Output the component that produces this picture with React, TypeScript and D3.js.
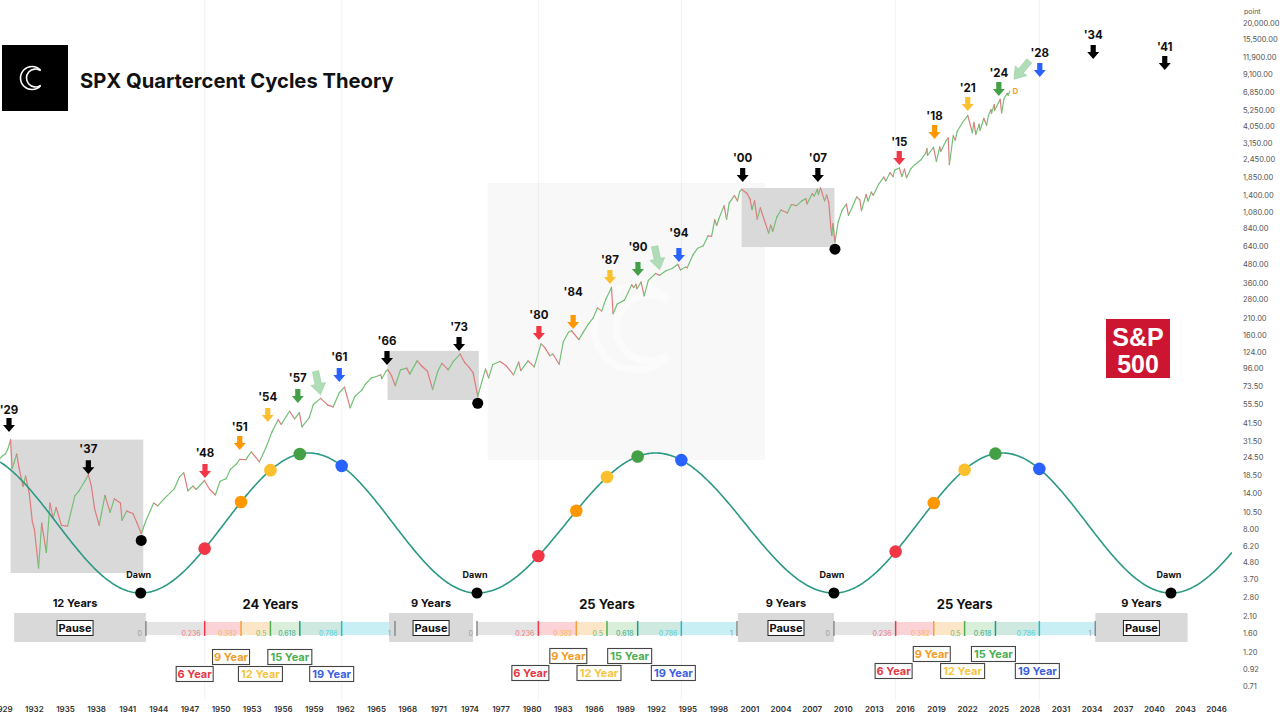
import * as d3 from 'd3'

const WIDTH = 1280
const HEIGHT = 728
const PLOT_RIGHT = 1232
const FONT = "Inter, 'Helvetica Neue', Arial, sans-serif"

// S&P 500 history, [year, close]
const spx: [number, number][] = [
  [1928.6, 23.5], [1928.9, 24.8], [1929.2, 25.6], [1929.45, 27.8], [1929.7, 31.9], [1929.85, 20.5],
  [1930.0, 22.0], [1930.3, 25.6], [1930.5, 21.0], [1930.9, 15.5], [1931.15, 18.2], [1931.5, 14.0],
  [1931.8, 9.0], [1932.0, 8.0], [1932.4, 4.4], [1932.7, 8.8], [1933.15, 5.6], [1933.5, 12.0],
  [1933.8, 9.5], [1934.1, 11.2], [1934.6, 8.5], [1935.2, 8.4], [1935.9, 13.4], [1936.3, 14.5],
  [1936.9, 17.0], [1937.2, 18.6], [1937.5, 15.5], [1937.8, 11.0], [1938.25, 8.5], [1938.8, 13.5],
  [1939.3, 10.4], [1939.7, 12.8], [1940.3, 12.0], [1940.45, 9.2], [1940.9, 10.6], [1941.5, 10.2],
  [1941.9, 8.8], [1942.3, 7.5], [1942.8, 9.3], [1943.5, 12.0], [1943.9, 11.5], [1944.5, 12.8],
  [1945.5, 15.0], [1946.0, 18.0], [1946.4, 19.2], [1946.8, 14.5], [1947.3, 15.6], [1947.6, 14.8],
  [1948.4, 17.0], [1948.9, 14.8], [1949.45, 13.6], [1949.9, 16.8], [1950.5, 17.5], [1950.9, 20.2],
  [1951.5, 22.0], [1951.8, 23.6], [1952.4, 23.5], [1952.9, 26.5], [1953.7, 22.7], [1954.3, 28.0],
  [1954.9, 35.9], [1955.5, 43.5], [1955.8, 40.5], [1956.6, 49.6], [1957.1, 44.0], [1957.55, 48.5],
  [1957.8, 39.0], [1958.5, 45.0], [1958.9, 55.0], [1959.6, 60.5], [1960.3, 54.5], [1960.8, 53.0],
  [1961.4, 66.0], [1961.9, 72.0], [1962.45, 52.3], [1962.9, 62.3], [1963.6, 69.0], [1963.9, 75.0],
  [1964.5, 83.0], [1964.9, 84.5], [1965.4, 87.0], [1965.5, 82.0], [1965.9, 92.0], [1966.1, 94.0],
  [1966.45, 85.5], [1966.8, 73.5], [1967.3, 94.0], [1967.9, 96.5], [1968.2, 88.0], [1968.9, 108.0],
  [1969.4, 99.0], [1969.9, 92.0], [1970.4, 69.5], [1970.9, 92.0], [1971.3, 104.0], [1971.9, 94.0],
  [1972.4, 107.0], [1973.05, 120.0], [1973.5, 105.0], [1973.9, 98.0], [1974.3, 90.0], [1974.75, 62.5],
  [1975.0, 72.0], [1975.5, 95.0], [1975.8, 83.0], [1976.2, 102.0], [1976.9, 107.0], [1977.5, 100.0],
  [1978.2, 87.0], [1978.7, 106.0], [1978.9, 93.0], [1979.6, 108.0], [1980.2, 98.5], [1980.85, 140.5],
  [1981.2, 133.0], [1981.7, 117.0], [1982.0, 120.0], [1982.6, 102.5], [1983.0, 145.0], [1983.5, 168.0],
  [1983.8, 172.0], [1984.5, 150.0], [1984.9, 167.0], [1985.4, 190.0], [1985.9, 211.0], [1986.3, 245.0],
  [1986.7, 233.0], [1987.1, 280.0], [1987.65, 336.0], [1987.8, 224.0], [1988.2, 260.0], [1988.9, 276.0],
  [1989.6, 350.0], [1989.8, 335.0], [1990.0, 353.0], [1990.1, 329.0], [1990.5, 365.0], [1990.8, 295.0],
  [1991.2, 375.0], [1991.9, 417.0], [1992.3, 405.0], [1992.9, 435.0], [1993.5, 450.0], [1994.05, 480.0],
  [1994.3, 440.0], [1994.8, 460.0], [1994.95, 455.0], [1995.5, 555.0], [1995.95, 615.0], [1996.5, 640.0],
  [1996.95, 745.0], [1997.3, 740.0], [1997.6, 955.0], [1997.8, 875.0], [1998.0, 970.0], [1998.5, 1185.0],
  [1998.75, 960.0], [1999.0, 1240.0], [1999.5, 1390.0], [1999.8, 1280.0], [2000.0, 1469.0], [2000.2, 1527.0],
  [2000.7, 1440.0], [2001.0, 1320.0], [2001.2, 1120.0], [2001.45, 1280.0], [2001.7, 965.0], [2002.0, 1150.0],
  [2002.5, 900.0], [2002.8, 777.0], [2003.0, 880.0], [2003.2, 800.0], [2003.6, 1000.0], [2004.0, 1112.0],
  [2004.6, 1060.0], [2005.0, 1210.0], [2005.5, 1190.0], [2006.0, 1280.0], [2006.4, 1325.0], [2006.5, 1220.0],
  [2007.0, 1430.0], [2007.2, 1380.0], [2007.5, 1530.0], [2007.6, 1410.0], [2007.8, 1565.0], [2008.2, 1280.0],
  [2008.4, 1400.0], [2008.6, 1250.0], [2008.8, 850.0], [2008.9, 750.0], [2009.0, 900.0], [2009.2, 676.0],
  [2009.5, 920.0], [2009.9, 1115.0], [2010.3, 1217.0], [2010.5, 1022.0], [2010.9, 1180.0], [2011.3, 1363.0],
  [2011.6, 1300.0], [2011.75, 1099.0], [2012.2, 1410.0], [2012.4, 1278.0], [2012.7, 1465.0], [2012.9, 1395.0],
  [2013.4, 1650.0], [2013.9, 1848.0], [2014.1, 1740.0], [2014.5, 1980.0], [2014.8, 1862.0], [2014.95, 2060.0],
  [2015.4, 2130.0], [2015.65, 1867.0], [2015.9, 2090.0], [2016.1, 1829.0], [2016.5, 2100.0], [2016.9, 2239.0],
  [2017.5, 2420.0], [2017.95, 2674.0], [2018.07, 2873.0], [2018.12, 2581.0], [2018.7, 2931.0], [2018.98, 2351.0],
  [2019.3, 2945.0], [2019.4, 2750.0], [2019.9, 3231.0], [2020.12, 3386.0], [2020.23, 2237.0], [2020.6, 3500.0],
  [2020.8, 3270.0], [2020.99, 3756.0], [2021.5, 4300.0], [2021.99, 4766.0], [2022.0, 4796.0], [2022.45, 3667.0],
  [2022.6, 4305.0], [2022.78, 3577.0], [2023.1, 4180.0], [2023.2, 3810.0], [2023.55, 4589.0], [2023.82, 4117.0],
  [2023.99, 4770.0], [2024.25, 5254.0], [2024.3, 4967.0], [2024.55, 5667.0], [2024.6, 5186.0], [2024.99, 5881.0],
  [2025.13, 6144.0], [2025.27, 4982.0], [2025.5, 6205.0], [2025.8, 6750.0], [2025.9, 6550.0], [2026.05, 6950.0],
]

const priceTicks = [
  20000, 15500, 11900, 9100, 6850, 5250, 4050, 3150, 2450, 1850, 1400, 1080, 840, 640, 480, 360, 280,
  210, 160, 124, 96, 73.5, 55.5, 41.5, 31.5, 24.5, 18.5, 14, 10.5, 8, 6.2, 4.8, 3.7, 2.8, 2.1, 1.6,
  1.2, 0.92, 0.71,
]
const yearTicks = d3.range(1929, 2047, 3)

// grey "pause" zones drawn over the price
const priceZones = [
  { start: 1929.7, end: 1942.5, high: 32, low: 4.07 },
  { start: 1966.05, end: 1974.85, high: 126, low: 59 },
  { start: 2000.2, end: 2009.15, high: 1561, low: 627 },
]
const watermarkZone = { start: 1975.7, end: 2002.45, high: 1688, low: 23.3 }

const dawnLows = [
  { year: 1942.3, price: 7.5 },
  { year: 1974.75, price: 62.5 },
  { year: 2009.2, price: 676 },
]

// turning points of the cycle wave (level 1 = crest, -1 = trough)
const waveTurns = [
  { year: 1926.05, level: 1 }, { year: 1942.25, level: -1 }, { year: 1958.45, level: 1 },
  { year: 1974.68, level: -1 }, { year: 1991.9, level: 1 }, { year: 2009.1, level: -1 },
  { year: 2025.35, level: 1 }, { year: 2041.6, level: -1 }, { year: 2057.85, level: 1 },
]

const fibLevels = [0, 0.236, 0.382, 0.5, 0.618, 0.786, 1]
const fibTickColors = ['#8a8a8a', '#f23645', '#f5a03a', '#4caf50', '#14a085', '#22bcd0', '#8a8a8a']
const fibFills = ['#e4e4e4', '#fbd3d6', '#fde6c8', '#d9efda', '#cde9e0', '#c8eff4']
const fibLabelColors = ['#999', '#f07a84', '#f5b560', '#6dbf70', '#3aa98f', '#55cbe0', '#999']

const cycleBars = [
  { label: '24 Years', start: 1942.75, end: 1966.77, boxDx: -10, boxDy: 0 },
  { label: '25 Years', start: 1974.68, end: 1999.75, boxDx: -8, boxDy: -1 },
  { label: '25 Years', start: 2009.1, end: 2034.3, boxDx: -2, boxDy: -3 },
]

const pauses = [
  { label: '12 Years', start: 1930.05, end: 1942.75 },
  { label: '9 Years', start: 1966.2, end: 1974.3 },
  { label: '9 Years', start: 1999.85, end: 2009.1 },
  { label: '9 Years', start: 2034.3, end: 2043.2 },
]

const phaseLevels = [0.236, 0.382, 0.5, 0.618, 0.786]
const phaseNames = ['6 Year', '9 Year', '12 Year', '15 Year', '19 Year']
const phaseTextColors = ['#e53945', '#f39c27', '#f5c542', '#4caf50', '#3d5fe0']
const phaseRows = [1, 0, 1, 0, 1]
const phaseDotColors = ['#f23645', '#ff9800', '#fbc02d', '#43a047', '#2962ff']

const arrows = [
  { label: "'29", year: 1929.55, price: 40.1, color: '#000', gap: 15 },
  { label: "'37", year: 1937.2, price: 20.9, color: '#000', gap: 18 },
  { label: "'48", year: 1948.45, price: 19.7, color: '#f23645', gap: 18 },
  { label: "'51", year: 1951.8, price: 30.3, color: '#ff9800', gap: 16 },
  { label: "'54", year: 1954.5, price: 46.8, color: '#fbc02d', gap: 18 },
  { label: "'57", year: 1957.4, price: 62.7, color: '#43a047', gap: 18 },
  { label: "'61", year: 1961.4, price: 86.8, color: '#2962ff', gap: 18 },
  { label: "'66", year: 1966.0, price: 112.8, color: '#000', gap: 17 },
  { label: "'73", year: 1972.95, price: 140, color: '#000', gap: 17 },
  { label: "'80", year: 1980.65, price: 166, color: '#f23645', gap: 18 },
  { label: "'84", year: 1983.95, price: 197, color: '#ff9800', gap: 30 },
  { label: "'87", year: 1987.5, price: 395, color: '#fbc02d', gap: 17 },
  { label: "'90", year: 1990.2, price: 447, color: '#43a047', gap: 22 },
  { label: "'94", year: 1994.15, price: 554, color: '#2962ff', gap: 22 },
  { label: "'00", year: 2000.3, price: 1909, color: '#000', gap: 17 },
  { label: "'07", year: 2007.55, price: 1909, color: '#000', gap: 17 },
  { label: "'15", year: 2015.4, price: 2482, color: '#f23645', gap: 16 },
  { label: "'18", year: 2018.8, price: 3709, color: '#ff9800', gap: 16 },
  { label: "'21", year: 2022.0, price: 5718, color: '#fbc02d', gap: 16 },
  { label: "'24", year: 2025.0, price: 7210, color: '#43a047', gap: 16 },
  { label: "'28", year: 2028.95, price: 9670, color: '#2962ff', gap: 17 },
  { label: "'34", year: 2034.1, price: 12773, color: '#000', gap: 17 },
  { label: "'41", year: 2041.0, price: 10778, color: '#000', gap: 16 },
]

const hintArrows = [
  { year: 1959.35, price: 76.7, rotate: -12 },
  { year: 1992.05, price: 529, rotate: -12 },
  { year: 2027.2, price: 9670, rotate: 40 },
]

const x = d3.scaleLinear().domain([1929, 2046]).range([3.3, 1216.6])
const y = d3.scaleLog().domain([0.71, 20000]).range([686, 23])
const waveY = d3.scaleLinear().domain([-1, 1]).range([593, 453])
const priceFmt = d3.format(',.2f')

function waveLevel(year: number) {
  const i = Math.max(0, d3.bisectRight(waveTurns.map(d => d.year), year) - 1)
  const a = waveTurns[i]
  const b = waveTurns[Math.min(i + 1, waveTurns.length - 1)]
  if (a === b) return a.level
  const t = (year - a.year) / (b.year - a.year)
  return a.level + (b.level - a.level) * d3.easeSinInOut(t)
}

const blockArrow = 'M-2.6,-7 L2.6,-7 L2.6,0 L6,0 L0,7 L-6,0 L-2.6,0 Z'
const bigArrow = 'M-3.2,-12 L3.2,-12 L3.2,1 L7.5,1 L0,12 L-7.5,1 L-3.2,1 Z'

// open-to-the-right "C" arc
const cArc = (r: number, gap: number) =>
  d3.arc()({ innerRadius: r, outerRadius: r, startAngle: Math.PI / 2 + gap, endAngle: Math.PI / 2 + 2 * Math.PI - gap }) ?? ''

function Monogram({ cx, cy, r, stroke, width, opacity = 1 }: { cx: number; cy: number; r: number; stroke: string; width: number; opacity?: number }) {
  return (
    <g fill="none" stroke={stroke} strokeWidth={width} opacity={opacity} transform={`translate(${cx},${cy})`}>
      <path d={cArc(r, 0.75)} />
      <path d={cArc(r * 0.78, 0.95)} transform={`translate(${r * 0.3},0)`} />
    </g>
  )
}

export default function App() {
  const waveYears = d3.range(x.invert(0), x.invert(PLOT_RIGHT), 0.1)
  const wavePath = d3.line<number>().x(d => x(d)).y(d => waveY(waveLevel(d)))(waveYears) ?? ''

  const segments = spx.slice(1).map((p, i) => ({ a: spx[i], b: p, up: p[1] >= spx[i][1] }))

  const barTop = 622
  const barBottom = 635

  return (
    <div style={{ position: 'fixed', left: 0, top: 0, width: WIDTH, height: HEIGHT, background: '#fff' }}>
      <svg width={WIDTH} height={HEIGHT} style={{ display: 'block', fontFamily: FONT }}>
        <defs>
          <clipPath id="plot">
            <rect x={0} y={0} width={PLOT_RIGHT} height={700} />
          </clipPath>
        </defs>
        <rect width={WIDTH} height={HEIGHT} fill="#fff" />

        {/* faint vertical guides at the phase edges */}
        {cycleBars.map((c, i) =>
          [0.236, 0.786].map(l => {
            const px = x(c.start + l * (c.end - c.start))
            return <line key={`g${i}${l}`} x1={px} x2={px} y1={0} y2={700} stroke="#f3f3f3" />
          })
        )}

        {/* watermark panel */}
        <rect
          x={x(watermarkZone.start)}
          y={y(watermarkZone.high)}
          width={x(watermarkZone.end) - x(watermarkZone.start)}
          height={y(watermarkZone.low) - y(watermarkZone.high)}
          fill="#000"
          opacity={0.028}
        />
        <Monogram cx={636} cy={328} r={42} stroke="#fff" width={7} opacity={0.5} />

        <g clipPath="url(#plot)">
          {/* pause zones on price */}
          {priceZones.map((z, i) => (
            <rect
              key={`z${i}`}
              x={x(z.start)}
              y={y(z.high)}
              width={x(z.end) - x(z.start)}
              height={y(z.low) - y(z.high)}
              fill="#d9d9d9"
            />
          ))}

          {/* price */}
          {segments.map((s, i) => (
            <line
              key={`p${i}`}
              x1={x(s.a[0])}
              y1={y(s.a[1])}
              x2={x(s.b[0])}
              y2={y(s.b[1])}
              stroke={s.up ? '#72c175' : '#e07a7c'}
              strokeWidth={1.2}
              strokeLinecap="round"
            />
          ))}

          {/* cycle wave */}
          <path d={wavePath} fill="none" stroke="#2b9984" strokeWidth={1.6} />
        </g>

        {/* dawn lows on price */}
        {dawnLows.map((d, i) => (
          <circle key={`dl${i}`} cx={x(d.year)} cy={y(d.price) + 7} r={5.5} fill="#000" />
        ))}

        {/* troughs on wave */}
        {waveTurns
          .filter(t => t.level < 0 && x(t.year) < PLOT_RIGHT)
          .map((t, i) => (
            <g key={`tr${i}`}>
              <circle cx={x(t.year)} cy={waveY(-1)} r={5.5} fill="#000" />
              <text x={x(t.year) - 2} y={waveY(-1) - 15} textAnchor="middle" fontSize={9} fontWeight={700} fill="#111">
                Dawn
              </text>
            </g>
          ))}

        {/* phase dots on wave */}
        {cycleBars.map((c, ci) =>
          phaseLevels.map((l, li) => {
            const yr = c.start + l * (c.end - c.start)
            return <circle key={`pd${ci}${li}`} cx={x(yr)} cy={waveY(waveLevel(yr))} r={6.3} fill={phaseDotColors[li]} />
          })
        )}

        {/* year arrows */}
        {arrows.map((a, i) => {
          const ax = x(a.year)
          const ay = y(a.price)
          return (
            <g key={`a${i}`}>
              <path d={blockArrow} transform={`translate(${ax},${ay})`} fill={a.color} />
              <text x={ax} y={ay - a.gap + 4} textAnchor="middle" fontSize={11.5} fontWeight={700} fill="#111">
                {a.label}
              </text>
            </g>
          )
        })}
        {hintArrows.map((h, i) => (
          <path
            key={`h${i}`}
            d={bigArrow}
            transform={`translate(${x(h.year)},${y(h.price)}) rotate(${h.rotate})`}
            fill="#a9d9b1"
            stroke="#93cc9c"
            strokeWidth={0.6}
            opacity={0.9}
          />
        ))}
        <text x={x(2026.6)} y={y(7000) + 3} textAnchor="middle" fontSize={8} fontWeight={700} fill="#f5a623">
          D
        </text>

        {/* cycle bars */}
        {cycleBars.map((c, ci) => {
          const span = c.end - c.start
          const px = (l: number) => x(c.start + l * span)
          return (
            <g key={`cb${ci}`}>
              {fibLevels.slice(0, -1).map((l, li) => (
                <rect
                  key={`f${li}`}
                  x={px(l)}
                  y={barTop}
                  width={px(fibLevels[li + 1]) - px(l)}
                  height={barBottom - barTop}
                  fill={fibFills[li]}
                />
              ))}
              <text x={px(0.5)} y={609} textAnchor="middle" fontSize={13} fontWeight={700} fill="#111">
                {c.label}
              </text>
            </g>
          )
        })}

        {/* pause boxes */}
        {pauses.map((p, i) => {
          const cx = (x(p.start) + x(p.end)) / 2 - (i === 0 ? 5 : 0)
          return (
            <g key={`pa${i}`}>
              <rect x={x(p.start)} y={613} width={x(p.end) - x(p.start)} height={29} fill="#d9d9d9" />
              <text x={cx} y={607} textAnchor="middle" fontSize={11} fontWeight={700} fill="#111">
                {p.label}
              </text>
              <rect x={cx - 18} y={620.5} width={36} height={15} fill="#fff" stroke="#222" strokeWidth={1} />
              <text x={cx} y={632} textAnchor="middle" fontSize={11} fontWeight={700} fill="#111">
                Pause
              </text>
            </g>
          )
        })}

        {/* fib ticks, labels and phase boxes */}
        {cycleBars.map((c, ci) => {
          const span = c.end - c.start
          const px = (l: number) => x(c.start + l * span)
          return (
            <g key={`ft${ci}`}>
              {fibLevels.map((l, li) => (
                <g key={`t${li}`}>
                  <line x1={px(l)} x2={px(l)} y1={barTop - 1} y2={barBottom + 1} stroke={fibTickColors[li]} strokeWidth={1.5} />
                  <text x={px(l) - 4} y={barBottom + 1} textAnchor="end" fontSize={7} fill={fibLabelColors[li]}>
                    {String(l)}
                  </text>
                </g>
              ))}
              {phaseLevels.map((l, li) => {
                const bx = px(l) + c.boxDx
                const by = (phaseRows[li] ? 674 : 657) + c.boxDy
                const w = phaseNames[li].length > 6 ? 44 : 37
                return (
                  <g key={`pb${li}`}>
                    <rect x={bx - w / 2} y={by - 7.5} width={w} height={15} fill="#fff" stroke="#444" strokeWidth={1.1} />
                    <text x={bx} y={by + 4} textAnchor="middle" fontSize={11} fontWeight={700} fill={phaseTextColors[li]}>
                      {phaseNames[li]}
                    </text>
                  </g>
                )
              })}
            </g>
          )
        })}

        {/* x axis */}
        {yearTicks.map(t => (
          <text key={`xt${t}`} x={x(t)} y={712} textAnchor="middle" fontSize={8} fontWeight={600} fill="#333">
            {t}
          </text>
        ))}

        {/* y axis */}
        {priceTicks.map(t => (
          <text key={`yt${t}`} x={1243} y={y(t) + 3} fontSize={7.5} fill="#555">
            {priceFmt(t)}
          </text>
        ))}
        <rect x={1236} y={0} width={44} height={19} fill="#fff" />
        <text x={1244} y={14} fontSize={7} fill="#555">
          point
        </text>

        {/* title */}
        <rect x={2} y={45} width={66} height={66} fill="#000" />
        <Monogram cx={32} cy={78} r={11.5} stroke="#fff" width={1.6} />
        <text x={80} y={88} fontSize={20.2} fontWeight={700} fill="#111">
          SPX Quartercent Cycles Theory
        </text>

        {/* S&P 500 badge */}
        <rect x={1106} y={319} width={64} height={59} fill="#cc1530" />
        <text x={1138} y={346} textAnchor="middle" fontSize={25} fontWeight={700} fill="#fff" fontFamily="'Liberation Sans', Arial, sans-serif">
          S&amp;P
        </text>
        <text x={1138} y={373} textAnchor="middle" fontSize={25} fontWeight={700} fill="#fff" fontFamily="'Liberation Sans', Arial, sans-serif">
          500
        </text>
      </svg>
    </div>
  )
}
